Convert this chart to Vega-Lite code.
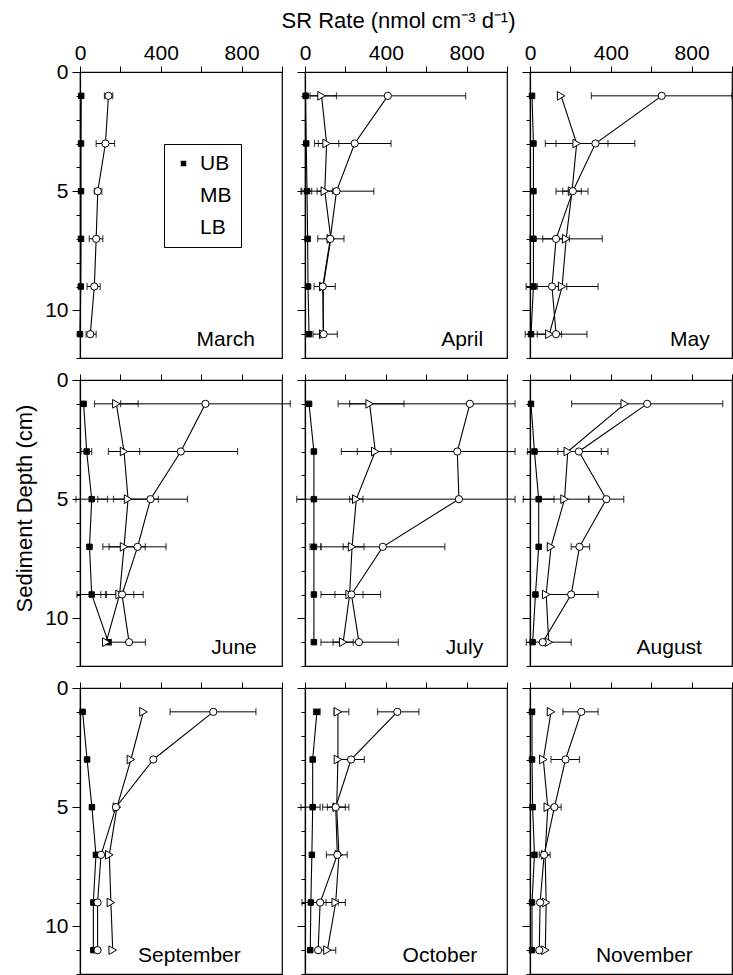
{
"$schema": "https://vega.github.io/schema/vega-lite/v6.json",
"padding": {"left": 13, "top": 8, "right": 0, "bottom": 0},
"bounds": "flush",
"columns": 3,
"spacing": {"row": 22, "column": 23},
"data": {"values": [
{"month":"March","site":"UB","depth":1,"rate":6},{"month":"March","site":"UB","depth":3,"rate":5},{"month":"March","site":"UB","depth":5,"rate":5},{"month":"March","site":"UB","depth":7,"rate":5},{"month":"March","site":"UB","depth":9,"rate":4},{"month":"March","site":"UB","depth":11,"rate":0},
{"month":"March","site":"MB","depth":1,"rate":141,"lo":121,"hi":162},{"month":"March","site":"MB","depth":3,"rate":126,"lo":80,"hi":171},{"month":"March","site":"MB","depth":5,"rate":88,"lo":71,"hi":108},{"month":"March","site":"MB","depth":7,"rate":80,"lo":46,"hi":113},{"month":"March","site":"MB","depth":9,"rate":71,"lo":35,"hi":100},{"month":"March","site":"MB","depth":11,"rate":51,"lo":30,"hi":80},
{"month":"April","site":"UB","depth":1,"rate":3},{"month":"April","site":"UB","depth":3,"rate":6},{"month":"April","site":"UB","depth":5,"rate":10,"lo":-20,"hi":33},{"month":"April","site":"UB","depth":7,"rate":13},{"month":"April","site":"UB","depth":9,"rate":15},{"month":"April","site":"UB","depth":11,"rate":20},
{"month":"April","site":"LB","depth":1,"rate":82,"lo":8,"hi":156},{"month":"April","site":"LB","depth":3,"rate":107,"lo":47,"hi":167},{"month":"April","site":"LB","depth":5,"rate":98,"lo":60,"hi":136},{"month":"April","site":"LB","depth":7,"rate":128,"lo":63,"hi":193},{"month":"April","site":"LB","depth":9,"rate":90,"lo":45,"hi":150},{"month":"April","site":"LB","depth":11,"rate":90,"lo":40,"hi":160},
{"month":"April","site":"MB","depth":1,"rate":410,"lo":25,"hi":795},{"month":"April","site":"MB","depth":3,"rate":246,"lo":66,"hi":426},{"month":"April","site":"MB","depth":5,"rate":156,"lo":-16,"hi":341},{"month":"April","site":"MB","depth":7,"rate":125},{"month":"April","site":"MB","depth":9,"rate":88},{"month":"April","site":"MB","depth":11,"rate":92},
{"month":"May","site":"UB","depth":1,"rate":10},{"month":"May","site":"UB","depth":3,"rate":17},{"month":"May","site":"UB","depth":5,"rate":17},{"month":"May","site":"UB","depth":7,"rate":17},{"month":"May","site":"UB","depth":9,"rate":17},{"month":"May","site":"UB","depth":11,"rate":5},
{"month":"May","site":"LB","depth":1,"rate":154},{"month":"May","site":"LB","depth":3,"rate":231,"lo":76,"hi":386},{"month":"May","site":"LB","depth":5,"rate":208,"lo":162,"hi":254},{"month":"May","site":"LB","depth":7,"rate":179,"lo":0,"hi":358},{"month":"May","site":"LB","depth":9,"rate":159,"lo":-19,"hi":337},{"month":"May","site":"LB","depth":11,"rate":96,"lo":36,"hi":156},
{"month":"May","site":"MB","depth":1,"rate":652,"lo":304,"hi":1000},{"month":"May","site":"MB","depth":3,"rate":324,"lo":129,"hi":519},{"month":"May","site":"MB","depth":5,"rate":212,"lo":129,"hi":287},{"month":"May","site":"MB","depth":7,"rate":129,"lo":63,"hi":195},{"month":"May","site":"MB","depth":9,"rate":109,"lo":36,"hi":182},{"month":"May","site":"MB","depth":11,"rate":129,"lo":-24,"hi":282},
{"month":"June","site":"UB","depth":1,"rate":18},{"month":"June","site":"UB","depth":3,"rate":33,"lo":5,"hi":58},{"month":"June","site":"UB","depth":5,"rate":58,"lo":-20,"hi":136},{"month":"June","site":"UB","depth":7,"rate":47},{"month":"June","site":"UB","depth":9,"rate":58,"lo":-15,"hi":131},{"month":"June","site":"UB","depth":11,"rate":140},
{"month":"June","site":"LB","depth":1,"rate":180,"lo":72,"hi":288},{"month":"June","site":"LB","depth":3,"rate":218,"lo":141,"hi":295},{"month":"June","site":"LB","depth":5,"rate":238,"lo":88,"hi":388},{"month":"June","site":"LB","depth":7,"rate":218,"lo":113,"hi":323},{"month":"June","site":"LB","depth":9,"rate":196,"lo":126,"hi":266},{"month":"June","site":"LB","depth":11,"rate":130},
{"month":"June","site":"MB","depth":1,"rate":621,"lo":201,"hi":1041},{"month":"June","site":"MB","depth":3,"rate":499,"lo":218,"hi":780},{"month":"June","site":"MB","depth":5,"rate":349,"lo":166,"hi":532},{"month":"June","site":"MB","depth":7,"rate":285,"lo":144,"hi":426},{"month":"June","site":"MB","depth":9,"rate":208,"lo":103,"hi":313},{"month":"June","site":"MB","depth":11,"rate":243,"lo":155,"hi":324},
{"month":"July","site":"UB","depth":1,"rate":20},{"month":"July","site":"UB","depth":3,"rate":44},{"month":"July","site":"UB","depth":5,"rate":44},{"month":"July","site":"UB","depth":7,"rate":44,"lo":25,"hi":79},{"month":"July","site":"UB","depth":9,"rate":44},{"month":"July","site":"UB","depth":11,"rate":44},
{"month":"July","site":"LB","depth":1,"rate":320,"lo":164,"hi":490},{"month":"July","site":"LB","depth":3,"rate":348,"lo":259,"hi":426},{"month":"July","site":"LB","depth":5,"rate":254,"lo":221,"hi":287},{"month":"July","site":"LB","depth":7,"rate":233,"lo":189,"hi":292},{"month":"July","site":"LB","depth":9,"rate":221,"lo":148,"hi":287},{"month":"July","site":"LB","depth":11,"rate":189,"lo":139,"hi":239},
{"month":"July","site":"MB","depth":1,"rate":816,"lo":221,"hi":1040},{"month":"July","site":"MB","depth":3,"rate":754,"lo":180,"hi":1040},{"month":"July","site":"MB","depth":5,"rate":762,"lo":-41,"hi":1040},{"month":"July","site":"MB","depth":7,"rate":385,"lo":79,"hi":692},{"month":"July","site":"MB","depth":9,"rate":230,"lo":79,"hi":374},{"month":"July","site":"MB","depth":11,"rate":267,"lo":79,"hi":462},
{"month":"August","site":"UB","depth":1,"rate":5},{"month":"August","site":"UB","depth":3,"rate":22},{"month":"August","site":"UB","depth":5,"rate":43,"lo":-33,"hi":119},{"month":"August","site":"UB","depth":7,"rate":43},{"month":"August","site":"UB","depth":9,"rate":27},{"month":"August","site":"UB","depth":11,"rate":13},
{"month":"August","site":"LB","depth":1,"rate":469},{"month":"August","site":"LB","depth":3,"rate":187,"lo":-12,"hi":386},{"month":"August","site":"LB","depth":5,"rate":171,"lo":52,"hi":290},{"month":"August","site":"LB","depth":7,"rate":104},{"month":"August","site":"LB","depth":9,"rate":80},{"month":"August","site":"LB","depth":11,"rate":93,"lo":-18,"hi":204},
{"month":"August","site":"MB","depth":1,"rate":580,"lo":206,"hi":954},{"month":"August","site":"MB","depth":3,"rate":242,"lo":138,"hi":353},{"month":"August","site":"MB","depth":5,"rate":378,"lo":292,"hi":464},{"month":"August","site":"MB","depth":7,"rate":245,"lo":204,"hi":295},{"month":"August","site":"MB","depth":9,"rate":204,"lo":71,"hi":337},{"month":"August","site":"MB","depth":11,"rate":63},
{"month":"September","site":"UB","depth":1,"rate":13},{"month":"September","site":"UB","depth":3,"rate":35},{"month":"September","site":"UB","depth":5,"rate":59},{"month":"September","site":"UB","depth":7,"rate":79},{"month":"September","site":"UB","depth":9,"rate":66},{"month":"September","site":"UB","depth":11,"rate":66},
{"month":"September","site":"LB","depth":1,"rate":314},{"month":"September","site":"LB","depth":3,"rate":252},{"month":"September","site":"LB","depth":5,"rate":183},{"month":"September","site":"LB","depth":7,"rate":145},{"month":"September","site":"LB","depth":9,"rate":153},{"month":"September","site":"LB","depth":11,"rate":162},
{"month":"September","site":"MB","depth":1,"rate":660,"lo":446,"hi":871},{"month":"September","site":"MB","depth":3,"rate":363},{"month":"September","site":"MB","depth":5,"rate":178},{"month":"September","site":"MB","depth":7,"rate":104},{"month":"September","site":"MB","depth":9,"rate":87},{"month":"September","site":"MB","depth":11,"rate":87},
{"month":"October","site":"UB","depth":1,"rate":59,"lo":42,"hi":75},{"month":"October","site":"UB","depth":3,"rate":38},{"month":"October","site":"UB","depth":5,"rate":38,"lo":-20,"hi":75},{"month":"October","site":"UB","depth":7,"rate":34},{"month":"October","site":"UB","depth":9,"rate":29},{"month":"October","site":"UB","depth":11,"rate":26},
{"month":"October","site":"LB","depth":1,"rate":163,"lo":144,"hi":217},{"month":"October","site":"LB","depth":3,"rate":163},{"month":"October","site":"LB","depth":5,"rate":157,"lo":111,"hi":200},{"month":"October","site":"LB","depth":7,"rate":168,"lo":106,"hi":209},{"month":"October","site":"LB","depth":9,"rate":152,"lo":104,"hi":200},{"month":"October","site":"LB","depth":11,"rate":111,"lo":70,"hi":152},
{"month":"October","site":"MB","depth":1,"rate":457,"lo":359,"hi":564},{"month":"October","site":"MB","depth":3,"rate":228,"lo":163,"hi":294},{"month":"October","site":"MB","depth":5,"rate":152,"lo":87,"hi":217},{"month":"October","site":"MB","depth":7,"rate":160},{"month":"October","site":"MB","depth":9,"rate":75,"lo":-15,"hi":165},{"month":"October","site":"MB","depth":11,"rate":65},
{"month":"November","site":"UB","depth":1,"rate":10,"lo":0,"hi":20},{"month":"November","site":"UB","depth":3,"rate":10},{"month":"November","site":"UB","depth":5,"rate":13},{"month":"November","site":"UB","depth":7,"rate":22},{"month":"November","site":"UB","depth":9,"rate":10},{"month":"November","site":"UB","depth":11,"rate":10},
{"month":"November","site":"LB","depth":1,"rate":104},{"month":"November","site":"LB","depth":3,"rate":66},{"month":"November","site":"LB","depth":5,"rate":88},{"month":"November","site":"LB","depth":7,"rate":75},{"month":"November","site":"LB","depth":9,"rate":80},{"month":"November","site":"LB","depth":11,"rate":76},
{"month":"November","site":"MB","depth":1,"rate":254,"lo":163,"hi":337},{"month":"November","site":"MB","depth":3,"rate":176,"lo":104,"hi":245},{"month":"November","site":"MB","depth":5,"rate":121,"lo":88,"hi":154},{"month":"November","site":"MB","depth":7,"rate":70,"lo":46,"hi":100},{"month":"November","site":"MB","depth":9,"rate":50},{"month":"November","site":"MB","depth":11,"rate":46}
]},
"concat": [
{"width":202,"height":286,"transform":[{"filter":{"field":"month","equal":"March"}}],
 "encoding":{"y":{"field":"depth","type":"quantitative","scale":{"domain":[0,12],"reverse":true,"nice":false,"zero":false},"axis":{"orient":"left","values":[0,1,2,3,4,5,6,7,8,9,10,11,12],"labelExpr":"datum.value % 5 === 0 ? datum.label : ''","tickSize":{"condition":{"test":"datum.value % 5 === 0","value":8},"value":4},"labelPadding":4,"title":null}}},
 "layer":[
  {"mark":{"type":"line","color":"black","strokeWidth":1.1},"encoding":{"x":{"field":"rate","type":"quantitative","scale":{"domain":[0,1000],"nice":false},"axis":{"orient":"top","values":[0,50,100,150,200,250,300,350,400,450,500,550,600,650,700,750,800,850,900,950,1000],"labelExpr":"datum.value % 400 === 0 ? datum.label : ''","tickSize":{"condition":{"test":"datum.value % 200 === 0","value":6},"value":3},"labelPadding":3,"title":null}},"detail":{"field":"site"},"order":{"field":"depth","type":"quantitative"}}},
  {"transform":[{"filter":"isValid(datum.lo)"}],"mark":{"type":"rule","color":"black","strokeWidth":1},"encoding":{"x":{"field":"lo","type":"quantitative"},"x2":{"field":"hi"}}},
  {"transform":[{"filter":"isValid(datum.lo)"}],"mark":{"type":"tick","orient":"vertical","color":"black","size":7,"thickness":1.2},"encoding":{"x":{"field":"lo","type":"quantitative"}}},
  {"transform":[{"filter":"isValid(datum.lo)"}],"mark":{"type":"tick","orient":"vertical","color":"black","size":7,"thickness":1.2},"encoding":{"x":{"field":"hi","type":"quantitative"}}},
  {"mark":{"type":"point","filled":true,"stroke":"black","strokeWidth":1,"opacity":1},"encoding":{"x":{"field":"rate","type":"quantitative"},
    "shape":{"field":"site","type":"nominal","scale":{"domain":["UB","MB","LB"],"range":["square","circle","triangle-right"]},"legend":{"orient":"none","legendX":84,"legendY":72,"title":null,"encode":{"symbols":{"stroke":{"value":"black"},"strokeWidth":{"value":1},"size":{"condition":{"test":"datum.value === 'UB'","value":22},"value":36},"opacity":{"value":1}}}}},
    "fill":{"field":"site","type":"nominal","scale":{"domain":["UB","MB","LB"],"range":["black","white","white"]},"legend":{"orient":"none","legendX":84,"legendY":72,"title":null,"encode":{"symbols":{"stroke":{"value":"black"},"strokeWidth":{"value":1},"size":{"condition":{"test":"datum.value === 'UB'","value":22},"value":36},"opacity":{"value":1}}}}},
    "size":{"field":"site","type":"nominal","scale":{"domain":["UB","MB","LB"],"range":[30,75,85]},"legend":{"orient":"none","legendX":84,"legendY":72,"title":null,"encode":{"symbols":{"stroke":{"value":"black"},"strokeWidth":{"value":1},"size":{"condition":{"test":"datum.value === 'UB'","value":22},"value":36},"opacity":{"value":1}}}}}}},
  {"transform":[{"filter":"datum.site === 'UB' && datum.depth === 11"}],"mark":{"type":"text","align":"right","baseline":"middle","fontSize":21,"color":"black"},"encoding":{"x":{"datum":866},"y":{"datum":11.25},"text":{"field":"month","type":"nominal"}}}
 ]},
{"width":202,"height":286,"transform":[{"filter":{"field":"month","equal":"April"}}],
 "encoding":{"y":{"field":"depth","type":"quantitative","scale":{"domain":[0,12],"reverse":true,"nice":false,"zero":false},"axis":{"orient":"left","values":[0,1,2,3,4,5,6,7,8,9,10,11,12],"labels":false,"tickSize":{"condition":{"test":"datum.value % 5 === 0","value":8},"value":4},"title":null}}},
 "layer":[
  {"mark":{"type":"line","color":"black","strokeWidth":1.1},"encoding":{"x":{"field":"rate","type":"quantitative","scale":{"domain":[0,1000],"nice":false},"axis":{"orient":"top","values":[0,50,100,150,200,250,300,350,400,450,500,550,600,650,700,750,800,850,900,950,1000],"labelExpr":"datum.value % 400 === 0 ? datum.label : ''","tickSize":{"condition":{"test":"datum.value % 200 === 0","value":6},"value":3},"labelPadding":3,"title":"SR Rate (nmol  cm⁻³ d⁻¹)","titleFontSize":22,"titlePadding":10,"titleX":93}},"detail":{"field":"site"},"order":{"field":"depth","type":"quantitative"}}},
  {"transform":[{"filter":"isValid(datum.lo)"}],"mark":{"type":"rule","color":"black","strokeWidth":1},"encoding":{"x":{"field":"lo","type":"quantitative"},"x2":{"field":"hi"}}},
  {"transform":[{"filter":"isValid(datum.lo)"}],"mark":{"type":"tick","orient":"vertical","color":"black","size":7,"thickness":1.2},"encoding":{"x":{"field":"lo","type":"quantitative"}}},
  {"transform":[{"filter":"isValid(datum.lo)"}],"mark":{"type":"tick","orient":"vertical","color":"black","size":7,"thickness":1.2},"encoding":{"x":{"field":"hi","type":"quantitative"}}},
  {"mark":{"type":"point","filled":true,"stroke":"black","strokeWidth":1,"opacity":1},"encoding":{"x":{"field":"rate","type":"quantitative"},"shape":{"field":"site","type":"nominal"},"fill":{"field":"site","type":"nominal"},"size":{"field":"site","type":"nominal"}}},
  {"transform":[{"filter":"datum.site === 'UB' && datum.depth === 11"}],"mark":{"type":"text","align":"right","baseline":"middle","fontSize":21,"color":"black"},"encoding":{"x":{"datum":882},"y":{"datum":11.25},"text":{"field":"month","type":"nominal"}}}
 ]},
{"width":202,"height":286,"transform":[{"filter":{"field":"month","equal":"May"}}],
 "encoding":{"y":{"field":"depth","type":"quantitative","scale":{"domain":[0,12],"reverse":true,"nice":false,"zero":false},"axis":{"orient":"left","values":[0,1,2,3,4,5,6,7,8,9,10,11,12],"labels":false,"tickSize":{"condition":{"test":"datum.value % 5 === 0","value":8},"value":4},"title":null}}},
 "layer":[
  {"mark":{"type":"line","color":"black","strokeWidth":1.1},"encoding":{"x":{"field":"rate","type":"quantitative","scale":{"domain":[0,1000],"nice":false},"axis":{"orient":"top","values":[0,50,100,150,200,250,300,350,400,450,500,550,600,650,700,750,800,850,900,950,1000],"labelExpr":"datum.value % 400 === 0 ? datum.label : ''","tickSize":{"condition":{"test":"datum.value % 200 === 0","value":6},"value":3},"labelPadding":3,"title":null}},"detail":{"field":"site"},"order":{"field":"depth","type":"quantitative"}}},
  {"transform":[{"filter":"isValid(datum.lo)"}],"mark":{"type":"rule","color":"black","strokeWidth":1},"encoding":{"x":{"field":"lo","type":"quantitative"},"x2":{"field":"hi"}}},
  {"transform":[{"filter":"isValid(datum.lo)"}],"mark":{"type":"tick","orient":"vertical","color":"black","size":7,"thickness":1.2},"encoding":{"x":{"field":"lo","type":"quantitative"}}},
  {"transform":[{"filter":"isValid(datum.lo)"}],"mark":{"type":"tick","orient":"vertical","color":"black","size":7,"thickness":1.2},"encoding":{"x":{"field":"hi","type":"quantitative"}}},
  {"mark":{"type":"point","filled":true,"stroke":"black","strokeWidth":1,"opacity":1},"encoding":{"x":{"field":"rate","type":"quantitative"},"shape":{"field":"site","type":"nominal"},"fill":{"field":"site","type":"nominal"},"size":{"field":"site","type":"nominal"}}},
  {"transform":[{"filter":"datum.site === 'UB' && datum.depth === 11"}],"mark":{"type":"text","align":"right","baseline":"middle","fontSize":21,"color":"black"},"encoding":{"x":{"datum":890},"y":{"datum":11.25},"text":{"field":"month","type":"nominal"}}}
 ]},
{"width":202,"height":286,"transform":[{"filter":{"field":"month","equal":"June"}}],
 "encoding":{"y":{"field":"depth","type":"quantitative","scale":{"domain":[0,12],"reverse":true,"nice":false,"zero":false},"axis":{"orient":"left","values":[0,1,2,3,4,5,6,7,8,9,10,11,12],"labelExpr":"datum.value % 5 === 0 ? datum.label : ''","tickSize":{"condition":{"test":"datum.value % 5 === 0","value":8},"value":4},"labelPadding":4,"title":"Sediment Depth (cm)","titleFontSize":22,"titlePadding":8,"titleY":128}}},
 "layer":[
  {"mark":{"type":"line","color":"black","strokeWidth":1.1},"encoding":{"x":{"field":"rate","type":"quantitative","scale":{"domain":[0,1000],"nice":false},"axis":{"orient":"top","values":[0,50,100,150,200,250,300,350,400,450,500,550,600,650,700,750,800,850,900,950,1000],"labels":false,"tickSize":{"condition":{"test":"datum.value % 200 === 0","value":6},"value":3},"title":null}},"detail":{"field":"site"},"order":{"field":"depth","type":"quantitative"}}},
  {"transform":[{"filter":"isValid(datum.lo)"}],"mark":{"type":"rule","color":"black","strokeWidth":1},"encoding":{"x":{"field":"lo","type":"quantitative"},"x2":{"field":"hi"}}},
  {"transform":[{"filter":"isValid(datum.lo)"}],"mark":{"type":"tick","orient":"vertical","color":"black","size":7,"thickness":1.2},"encoding":{"x":{"field":"lo","type":"quantitative"}}},
  {"transform":[{"filter":"isValid(datum.lo)"}],"mark":{"type":"tick","orient":"vertical","color":"black","size":7,"thickness":1.2},"encoding":{"x":{"field":"hi","type":"quantitative"}}},
  {"mark":{"type":"point","filled":true,"stroke":"black","strokeWidth":1,"opacity":1},"encoding":{"x":{"field":"rate","type":"quantitative"},"shape":{"field":"site","type":"nominal"},"fill":{"field":"site","type":"nominal"},"size":{"field":"site","type":"nominal"}}},
  {"transform":[{"filter":"datum.site === 'UB' && datum.depth === 11"}],"mark":{"type":"text","align":"right","baseline":"middle","fontSize":21,"color":"black"},"encoding":{"x":{"datum":875},"y":{"datum":11.25},"text":{"field":"month","type":"nominal"}}}
 ]},
{"width":202,"height":286,"transform":[{"filter":{"field":"month","equal":"July"}}],
 "encoding":{"y":{"field":"depth","type":"quantitative","scale":{"domain":[0,12],"reverse":true,"nice":false,"zero":false},"axis":{"orient":"left","values":[0,1,2,3,4,5,6,7,8,9,10,11,12],"labels":false,"tickSize":{"condition":{"test":"datum.value % 5 === 0","value":8},"value":4},"title":null}}},
 "layer":[
  {"mark":{"type":"line","color":"black","strokeWidth":1.1},"encoding":{"x":{"field":"rate","type":"quantitative","scale":{"domain":[0,1000],"nice":false},"axis":{"orient":"top","values":[0,50,100,150,200,250,300,350,400,450,500,550,600,650,700,750,800,850,900,950,1000],"labels":false,"tickSize":{"condition":{"test":"datum.value % 200 === 0","value":6},"value":3},"title":null}},"detail":{"field":"site"},"order":{"field":"depth","type":"quantitative"}}},
  {"transform":[{"filter":"isValid(datum.lo)"}],"mark":{"type":"rule","color":"black","strokeWidth":1},"encoding":{"x":{"field":"lo","type":"quantitative"},"x2":{"field":"hi"}}},
  {"transform":[{"filter":"isValid(datum.lo)"}],"mark":{"type":"tick","orient":"vertical","color":"black","size":7,"thickness":1.2},"encoding":{"x":{"field":"lo","type":"quantitative"}}},
  {"transform":[{"filter":"isValid(datum.lo)"}],"mark":{"type":"tick","orient":"vertical","color":"black","size":7,"thickness":1.2},"encoding":{"x":{"field":"hi","type":"quantitative"}}},
  {"mark":{"type":"point","filled":true,"stroke":"black","strokeWidth":1,"opacity":1},"encoding":{"x":{"field":"rate","type":"quantitative"},"shape":{"field":"site","type":"nominal"},"fill":{"field":"site","type":"nominal"},"size":{"field":"site","type":"nominal"}}},
  {"transform":[{"filter":"datum.site === 'UB' && datum.depth === 11"}],"mark":{"type":"text","align":"right","baseline":"middle","fontSize":21,"color":"black"},"encoding":{"x":{"datum":882},"y":{"datum":11.25},"text":{"field":"month","type":"nominal"}}}
 ]},
{"width":202,"height":286,"transform":[{"filter":{"field":"month","equal":"August"}}],
 "encoding":{"y":{"field":"depth","type":"quantitative","scale":{"domain":[0,12],"reverse":true,"nice":false,"zero":false},"axis":{"orient":"left","values":[0,1,2,3,4,5,6,7,8,9,10,11,12],"labels":false,"tickSize":{"condition":{"test":"datum.value % 5 === 0","value":8},"value":4},"title":null}}},
 "layer":[
  {"mark":{"type":"line","color":"black","strokeWidth":1.1},"encoding":{"x":{"field":"rate","type":"quantitative","scale":{"domain":[0,1000],"nice":false},"axis":{"orient":"top","values":[0,50,100,150,200,250,300,350,400,450,500,550,600,650,700,750,800,850,900,950,1000],"labels":false,"tickSize":{"condition":{"test":"datum.value % 200 === 0","value":6},"value":3},"title":null}},"detail":{"field":"site"},"order":{"field":"depth","type":"quantitative"}}},
  {"transform":[{"filter":"isValid(datum.lo)"}],"mark":{"type":"rule","color":"black","strokeWidth":1},"encoding":{"x":{"field":"lo","type":"quantitative"},"x2":{"field":"hi"}}},
  {"transform":[{"filter":"isValid(datum.lo)"}],"mark":{"type":"tick","orient":"vertical","color":"black","size":7,"thickness":1.2},"encoding":{"x":{"field":"lo","type":"quantitative"}}},
  {"transform":[{"filter":"isValid(datum.lo)"}],"mark":{"type":"tick","orient":"vertical","color":"black","size":7,"thickness":1.2},"encoding":{"x":{"field":"hi","type":"quantitative"}}},
  {"mark":{"type":"point","filled":true,"stroke":"black","strokeWidth":1,"opacity":1},"encoding":{"x":{"field":"rate","type":"quantitative"},"shape":{"field":"site","type":"nominal"},"fill":{"field":"site","type":"nominal"},"size":{"field":"site","type":"nominal"}}},
  {"transform":[{"filter":"datum.site === 'UB' && datum.depth === 11"}],"mark":{"type":"text","align":"right","baseline":"middle","fontSize":21,"color":"black"},"encoding":{"x":{"datum":851},"y":{"datum":11.25},"text":{"field":"month","type":"nominal"}}}
 ]},
{"width":202,"height":286,"transform":[{"filter":{"field":"month","equal":"September"}}],
 "encoding":{"y":{"field":"depth","type":"quantitative","scale":{"domain":[0,12],"reverse":true,"nice":false,"zero":false},"axis":{"orient":"left","values":[0,1,2,3,4,5,6,7,8,9,10,11,12],"labelExpr":"datum.value % 5 === 0 ? datum.label : ''","tickSize":{"condition":{"test":"datum.value % 5 === 0","value":8},"value":4},"labelPadding":4,"title":null}}},
 "layer":[
  {"mark":{"type":"line","color":"black","strokeWidth":1.1},"encoding":{"x":{"field":"rate","type":"quantitative","scale":{"domain":[0,1000],"nice":false},"axis":{"orient":"top","values":[0,50,100,150,200,250,300,350,400,450,500,550,600,650,700,750,800,850,900,950,1000],"labels":false,"tickSize":{"condition":{"test":"datum.value % 200 === 0","value":6},"value":3},"title":null}},"detail":{"field":"site"},"order":{"field":"depth","type":"quantitative"}}},
  {"transform":[{"filter":"isValid(datum.lo)"}],"mark":{"type":"rule","color":"black","strokeWidth":1},"encoding":{"x":{"field":"lo","type":"quantitative"},"x2":{"field":"hi"}}},
  {"transform":[{"filter":"isValid(datum.lo)"}],"mark":{"type":"tick","orient":"vertical","color":"black","size":7,"thickness":1.2},"encoding":{"x":{"field":"lo","type":"quantitative"}}},
  {"transform":[{"filter":"isValid(datum.lo)"}],"mark":{"type":"tick","orient":"vertical","color":"black","size":7,"thickness":1.2},"encoding":{"x":{"field":"hi","type":"quantitative"}}},
  {"mark":{"type":"point","filled":true,"stroke":"black","strokeWidth":1,"opacity":1},"encoding":{"x":{"field":"rate","type":"quantitative"},"shape":{"field":"site","type":"nominal"},"fill":{"field":"site","type":"nominal"},"size":{"field":"site","type":"nominal"}}},
  {"transform":[{"filter":"datum.site === 'UB' && datum.depth === 11"}],"mark":{"type":"text","align":"right","baseline":"middle","fontSize":21,"color":"black"},"encoding":{"x":{"datum":796},"y":{"datum":11.25},"text":{"field":"month","type":"nominal"}}}
 ]},
{"width":202,"height":286,"transform":[{"filter":{"field":"month","equal":"October"}}],
 "encoding":{"y":{"field":"depth","type":"quantitative","scale":{"domain":[0,12],"reverse":true,"nice":false,"zero":false},"axis":{"orient":"left","values":[0,1,2,3,4,5,6,7,8,9,10,11,12],"labels":false,"tickSize":{"condition":{"test":"datum.value % 5 === 0","value":8},"value":4},"title":null}}},
 "layer":[
  {"mark":{"type":"line","color":"black","strokeWidth":1.1},"encoding":{"x":{"field":"rate","type":"quantitative","scale":{"domain":[0,1000],"nice":false},"axis":{"orient":"top","values":[0,50,100,150,200,250,300,350,400,450,500,550,600,650,700,750,800,850,900,950,1000],"labels":false,"tickSize":{"condition":{"test":"datum.value % 200 === 0","value":6},"value":3},"title":null}},"detail":{"field":"site"},"order":{"field":"depth","type":"quantitative"}}},
  {"transform":[{"filter":"isValid(datum.lo)"}],"mark":{"type":"rule","color":"black","strokeWidth":1},"encoding":{"x":{"field":"lo","type":"quantitative"},"x2":{"field":"hi"}}},
  {"transform":[{"filter":"isValid(datum.lo)"}],"mark":{"type":"tick","orient":"vertical","color":"black","size":7,"thickness":1.2},"encoding":{"x":{"field":"lo","type":"quantitative"}}},
  {"transform":[{"filter":"isValid(datum.lo)"}],"mark":{"type":"tick","orient":"vertical","color":"black","size":7,"thickness":1.2},"encoding":{"x":{"field":"hi","type":"quantitative"}}},
  {"mark":{"type":"point","filled":true,"stroke":"black","strokeWidth":1,"opacity":1},"encoding":{"x":{"field":"rate","type":"quantitative"},"shape":{"field":"site","type":"nominal"},"fill":{"field":"site","type":"nominal"},"size":{"field":"site","type":"nominal"}}},
  {"transform":[{"filter":"datum.site === 'UB' && datum.depth === 11"}],"mark":{"type":"text","align":"right","baseline":"middle","fontSize":21,"color":"black"},"encoding":{"x":{"datum":853},"y":{"datum":11.25},"text":{"field":"month","type":"nominal"}}}
 ]},
{"width":202,"height":286,"transform":[{"filter":{"field":"month","equal":"November"}}],
 "encoding":{"y":{"field":"depth","type":"quantitative","scale":{"domain":[0,12],"reverse":true,"nice":false,"zero":false},"axis":{"orient":"left","values":[0,1,2,3,4,5,6,7,8,9,10,11,12],"labels":false,"tickSize":{"condition":{"test":"datum.value % 5 === 0","value":8},"value":4},"title":null}}},
 "layer":[
  {"mark":{"type":"line","color":"black","strokeWidth":1.1},"encoding":{"x":{"field":"rate","type":"quantitative","scale":{"domain":[0,1000],"nice":false},"axis":{"orient":"top","values":[0,50,100,150,200,250,300,350,400,450,500,550,600,650,700,750,800,850,900,950,1000],"labels":false,"tickSize":{"condition":{"test":"datum.value % 200 === 0","value":6},"value":3},"title":null}},"detail":{"field":"site"},"order":{"field":"depth","type":"quantitative"}}},
  {"transform":[{"filter":"isValid(datum.lo)"}],"mark":{"type":"rule","color":"black","strokeWidth":1},"encoding":{"x":{"field":"lo","type":"quantitative"},"x2":{"field":"hi"}}},
  {"transform":[{"filter":"isValid(datum.lo)"}],"mark":{"type":"tick","orient":"vertical","color":"black","size":7,"thickness":1.2},"encoding":{"x":{"field":"lo","type":"quantitative"}}},
  {"transform":[{"filter":"isValid(datum.lo)"}],"mark":{"type":"tick","orient":"vertical","color":"black","size":7,"thickness":1.2},"encoding":{"x":{"field":"hi","type":"quantitative"}}},
  {"mark":{"type":"point","filled":true,"stroke":"black","strokeWidth":1,"opacity":1},"encoding":{"x":{"field":"rate","type":"quantitative"},"shape":{"field":"site","type":"nominal"},"fill":{"field":"site","type":"nominal"},"size":{"field":"site","type":"nominal"}}},
  {"transform":[{"filter":"datum.site === 'UB' && datum.depth === 11"}],"mark":{"type":"text","align":"right","baseline":"middle","fontSize":21,"color":"black"},"encoding":{"x":{"datum":806},"y":{"datum":11.25},"text":{"field":"month","type":"nominal"}}}
 ]}
],
"config": {
 "font": "Liberation Sans",
 "background": "white",
 "view": {"stroke": "black", "strokeWidth": 1.2},
 "axis": {"grid": false, "domainColor": "black", "domainWidth": 1.2, "tickColor": "black", "tickWidth": 1, "labelColor": "black", "titleColor": "black", "labelFontSize": 21, "titleFontSize": 21, "titleFontWeight": "normal", "labelFont": "Liberation Sans", "titleFont": "Liberation Sans", "labelFlush": false, "labelOverlap": false},
 "legend": {"labelFontSize": 21, "labelFont": "Liberation Sans", "labelColor": "black", "strokeColor": "black", "padding": 9, "rowPadding": 10, "symbolStrokeColor": "black", "symbolStrokeWidth": 1, "labelOffset": 6},
 "text": {"font": "Liberation Sans", "color": "black"}
}
}
